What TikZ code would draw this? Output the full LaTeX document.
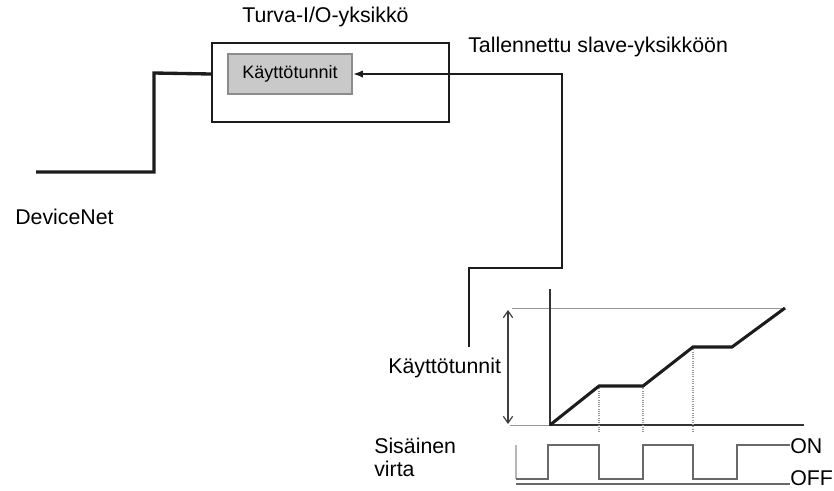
\documentclass[tikz,border=0pt]{standalone}
\usepackage{fontspec}
\setmainfont{Liberation Sans}
\usetikzlibrary{arrows.meta}

\definecolor{boxfill}{RGB}{201,201,201}
\definecolor{boxline}{RGB}{140,140,140}
\definecolor{ink}{RGB}{28,28,28}
\definecolor{pulse}{RGB}{105,105,105}
\definecolor{guide}{RGB}{150,150,150}

\begin{document}
\begin{tikzpicture}[x=0.75pt,y=0.75pt,yscale=-1,xscale=1,
  txt/.style={anchor=west,inner sep=0.75pt,font=\fontsize{16}{17.25}\selectfont},
  wire/.style={line width=2.5pt,color=ink},
  feed/.style={line width=1.7pt,color=ink},
  axis/.style={line width=1.1pt,color=ink!90},
  level/.style={line width=1.6pt,color=pulse},
  guide/.style={line width=0.7pt,color=guide}]
\useasboundingbox (0,0) rectangle (834,490);

%Shape: Rectangle [unit]
\node [draw=ink,line width=1.5pt,minimum width=177.75pt,minimum height=59.25pt,inner sep=0pt] (unit) at (330.5,82.5) {};
%Shape: Rectangle [tunnit]
\node [draw=boxline,fill=boxfill,line width=1.2pt,minimum width=93pt,minimum height=30pt,inner sep=0pt,font=\fontsize{13.5}{13.5}\selectfont] (tunnit) at (290,74) {Käyttötunnit};

%Straight Lines [DeviceNet]
\coordinate (dnet) at (36,172);
\draw [wire] (dnet) -| (154,73) -- (unit.west |- tunnit);
%Straight Lines [stored to slave]
\coordinate (probe) at (469,347);
\draw [feed,-{Latex[length=7.5pt,width=5.5pt]}] (probe) |- (562,268) |- (tunnit.east);

%Graph: axes and top line
\draw [guide] (512,308) -- (785,308);
\draw [guide] (510,425) -- (550,425);
\draw [axis] (550,289) -- (550,425) -- (804,425);
\draw [line width=0.9pt,color=ink!85,{Straight Barb[length=5pt,width=7pt]}-{Straight Barb[length=5pt,width=7pt]}] (508,310) -- (508,424);
%Dotted lines
\foreach \x/\y in {599/386,643/386,693/347}
  \draw [guide,densely dotted,line width=1pt] (\x,\y) -- (\x,432);
%Hours curve
\draw [wire,line width=2.3pt] (550,425) -- (599,386) -- (643,386) -- (693,347) -- (732,347) -- (785,308);

%Internal current
\draw [level,line width=1pt,color=guide!70] (516,445) -- (516,479);
\draw [level] (516,479) -- (548,479) -- (548,445) -- (599,445) -- (599,479) -- (643,479) -- (643,445) -- (693,445) -- (693,479) -- (737,479) -- (737,445) -- (790,445);
\draw [level] (516,484) -- (790,484);

% Text Node
\node [txt] (unitlabel) at (241,17) {Turva-I/O-yksikkö};
% Text Node
\node [txt] (storedlabel) at (467,47) {Tallennettu slave-yksikköön};
% Text Node
\node [txt] (devicenet) at (14,217) {DeviceNet};
% Text Node
\node [txt] (hourslabel) at (387,368) {Käyttötunnit};
% Text Node
\node [txt,align=left] (currentlabel) at (373,457) {Sisäinen\\virta};
% Text Node
\node [txt] (onlabel) at (789,446) {ON};
% Text Node
\node [txt] (offlabel) at (789,478) {OFF};

\end{tikzpicture}
\end{document}
